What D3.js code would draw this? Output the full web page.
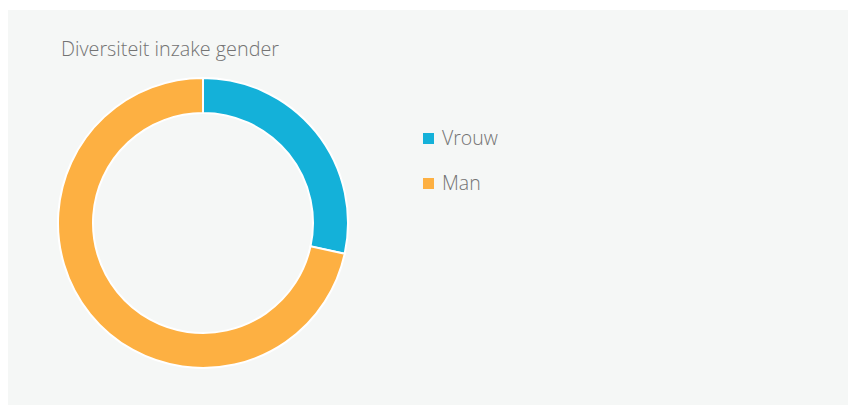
<!DOCTYPE html>
<html>
<head>
<meta charset="utf-8">
<script src="https://cdnjs.cloudflare.com/ajax/libs/d3/7.8.5/d3.min.js"></script>
<style>
  body { margin: 0; background: #fff; }
  svg { display: block; font-family: "Open Sans", sans-serif; }
</style>
</head>
<body>
<svg width="848" height="405"></svg>
<script>
const categories = ["Vrouw", "Man"];
const values = [28.4, 71.6];
const colors = ["#14b1d9", "#fdb042"];
const title = "Diversiteit inzake gender";

const svg = d3.select("svg");

// panel background
svg.append("rect")
    .attr("x", 8)
    .attr("y", 10)
    .attr("width", 840)
    .attr("height", 395)
    .attr("fill", "#f5f7f6");

svg.append("text")
    .attr("x", 61)
    .attr("y", 56)
    .attr("font-size", 19.8)
    .attr("font-weight", 300)
    .attr("fill", "#737373")
    .text(title);

const color = d3.scaleOrdinal().domain(categories).range(colors);

const pie = d3.pie().sort(null).value(d => d.value);
const arc = d3.arc().innerRadius(110).outerRadius(145);

const data = categories.map((c, i) => ({ name: c, value: values[i] }));

const g = svg.append("g").attr("transform", "translate(203, 223)");

g.selectAll("path")
    .data(pie(data))
    .enter().append("path")
    .attr("d", arc)
    .attr("fill", d => color(d.data.name))
    .attr("stroke", "#fff")
    .attr("stroke-width", 2);

// legend
const legend = svg.append("g").attr("transform", "translate(423, 133)");

const items = legend.selectAll("g")
    .data(categories)
    .enter().append("g")
    .attr("transform", (d, i) => `translate(0, ${i * 45})`);

items.append("rect")
    .attr("width", 11)
    .attr("height", 11)
    .attr("fill", d => color(d));

items.append("text")
    .attr("x", 19)
    .attr("y", 12)
    .attr("font-size", 19.5)
    .attr("font-weight", 300)
    .attr("fill", "#737373")
    .text(d => d);
</script>
</body>
</html>
